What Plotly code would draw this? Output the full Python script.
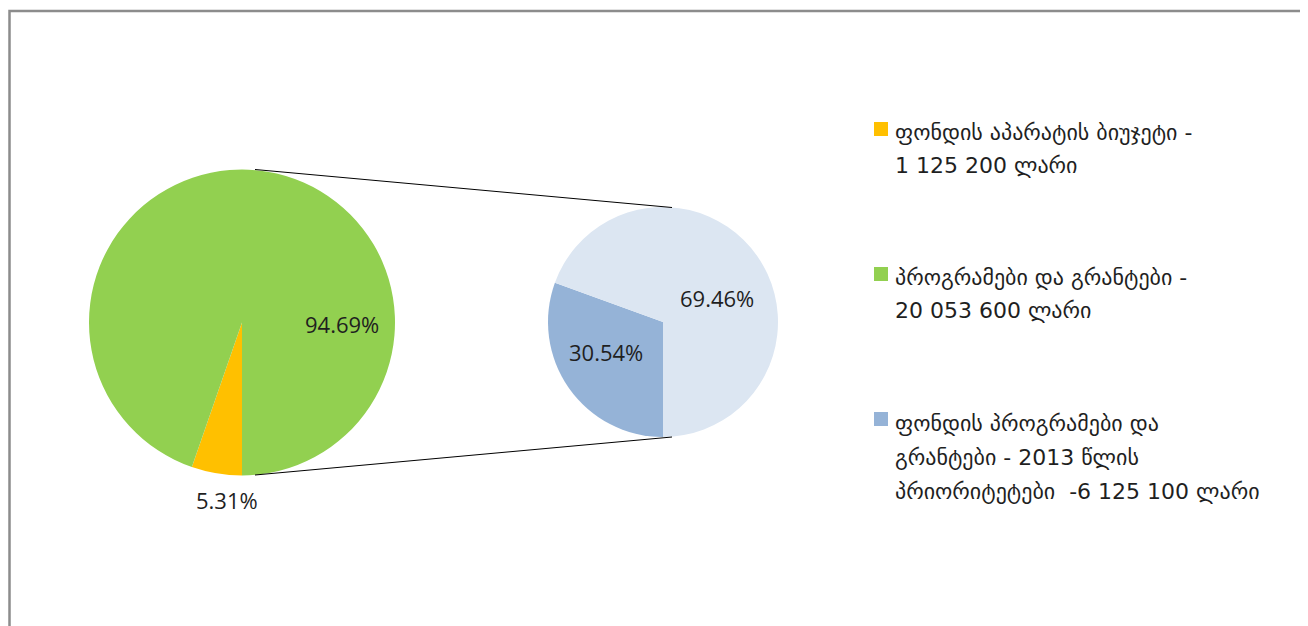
import plotly.graph_objects as go

# page body has an 8px default margin; compensate so the figure fills the window
OFF = 8
W, H = 1308 - OFF, 626 - OFF

# ---- data ----
main_labels = ["ფონდის აპარატის ბიუჯეტი", "პროგრამები და გრანტები"]
main_values = [1125200, 20053600]
sub_labels = ["ფონდის პროგრამები და გრანტები - 2013 წლის პრიორიტეტები", "სხვა პროგრამები და გრანტები"]
sub_values = [6125100, 20053600 - 6125100]
legend_lines = [
    ["ფონდის აპარატის ბიუჯეტი -", "1 125 200 ლარი"],
    ["პროგრამები და გრანტები -", "20 053 600 ლარი"],
    ["ფონდის პროგრამები და", "გრანტები - 2013 წლის", "პრიორიტეტები  -6 125 100 ლარი"],
]

# ---- styles ----
main_colors = ["#FFC000", "#92D050"]
sub_colors = ["#95B3D7", "#DCE6F2"]
legend_colors = ["#FFC000", "#92D050", "#95B3D7"]
FONT = "DejaVu Sans, Noto Sans"


def px(x):
    return (x - OFF) / W


def py(y):
    return 1 - (y - OFF) / H


fig = go.Figure()
fig.add_trace(go.Pie(
    labels=main_labels, values=main_values, sort=False, direction="clockwise",
    rotation=180, marker=dict(colors=main_colors, line=dict(width=0)),
    textinfo="none", hoverinfo="label+value+percent", showlegend=False,
    domain=dict(x=[px(89), px(395)], y=[py(475.5), py(169.5)]),
))
fig.add_trace(go.Pie(
    labels=sub_labels, values=sub_values, sort=False, direction="clockwise",
    rotation=180, marker=dict(colors=sub_colors, line=dict(width=0)),
    textinfo="none", hoverinfo="label+value+percent", showlegend=False,
    domain=dict(x=[px(548), px(778)], y=[py(437), py(207)]),
))

main_total = sum(main_values)
sub_total = sum(sub_values)
pct = lambda v, t: f"{100 * v / t:.2f}%"
label_font = dict(family="Open Sans, Noto Sans", size=22, color="#1f1f1f")
ann = [
    dict(x=px(227), y=py(500), text=pct(main_values[0], main_total)),
    dict(x=px(342), y=py(324), text=pct(main_values[1], main_total)),
    dict(x=px(606), y=py(352), text=pct(sub_values[0], sub_total)),
    dict(x=px(717), y=py(298), text=pct(sub_values[1], sub_total)),
]
for a in ann:
    fig.add_annotation(xref="paper", yref="paper", showarrow=False,
                       xanchor="center", yanchor="middle", font=label_font, **a)

shapes = []
# border
shapes.append(dict(type="rect", xref="paper", yref="paper",
                   x0=px(9.5), x1=1.05, y0=-0.05, y1=py(11),
                   line=dict(color="#8C8C8C", width=2.5), fillcolor="rgba(0,0,0,0)"))
# connector lines
shapes.append(dict(type="line", xref="paper", yref="paper",
                   x0=px(255), y0=py(169.5), x1=px(672), y1=py(207.5),
                   line=dict(color="#000000", width=1)))
shapes.append(dict(type="line", xref="paper", yref="paper",
                   x0=px(255), y0=py(475), x1=px(672), y1=py(437),
                   line=dict(color="#000000", width=1)))

legend_tops = [122, 267, 412]
line_centers = [[132, 165], [277, 310], [423, 457, 491]]
for lines, col, top, centers in zip(legend_lines, legend_colors, legend_tops, line_centers):
    shapes.append(dict(type="rect", xref="paper", yref="paper",
                       x0=px(874), x1=px(888), y0=py(top + 14), y1=py(top),
                       line=dict(width=0), fillcolor=col))
    for txt, cy in zip(lines, centers):
        fig.add_annotation(xref="paper", yref="paper", showarrow=False,
                           x=px(893), y=py(cy), xanchor="left", yanchor="middle",
                           align="left", text=txt,
                           font=dict(family=FONT, size=22, color="#1f1f1f"))

fig.update_layout(
    width=W, height=H, margin=dict(l=0, r=0, t=0, b=0),
    paper_bgcolor="white", plot_bgcolor="white", shapes=shapes,
)
fig.write_html("out.html")
